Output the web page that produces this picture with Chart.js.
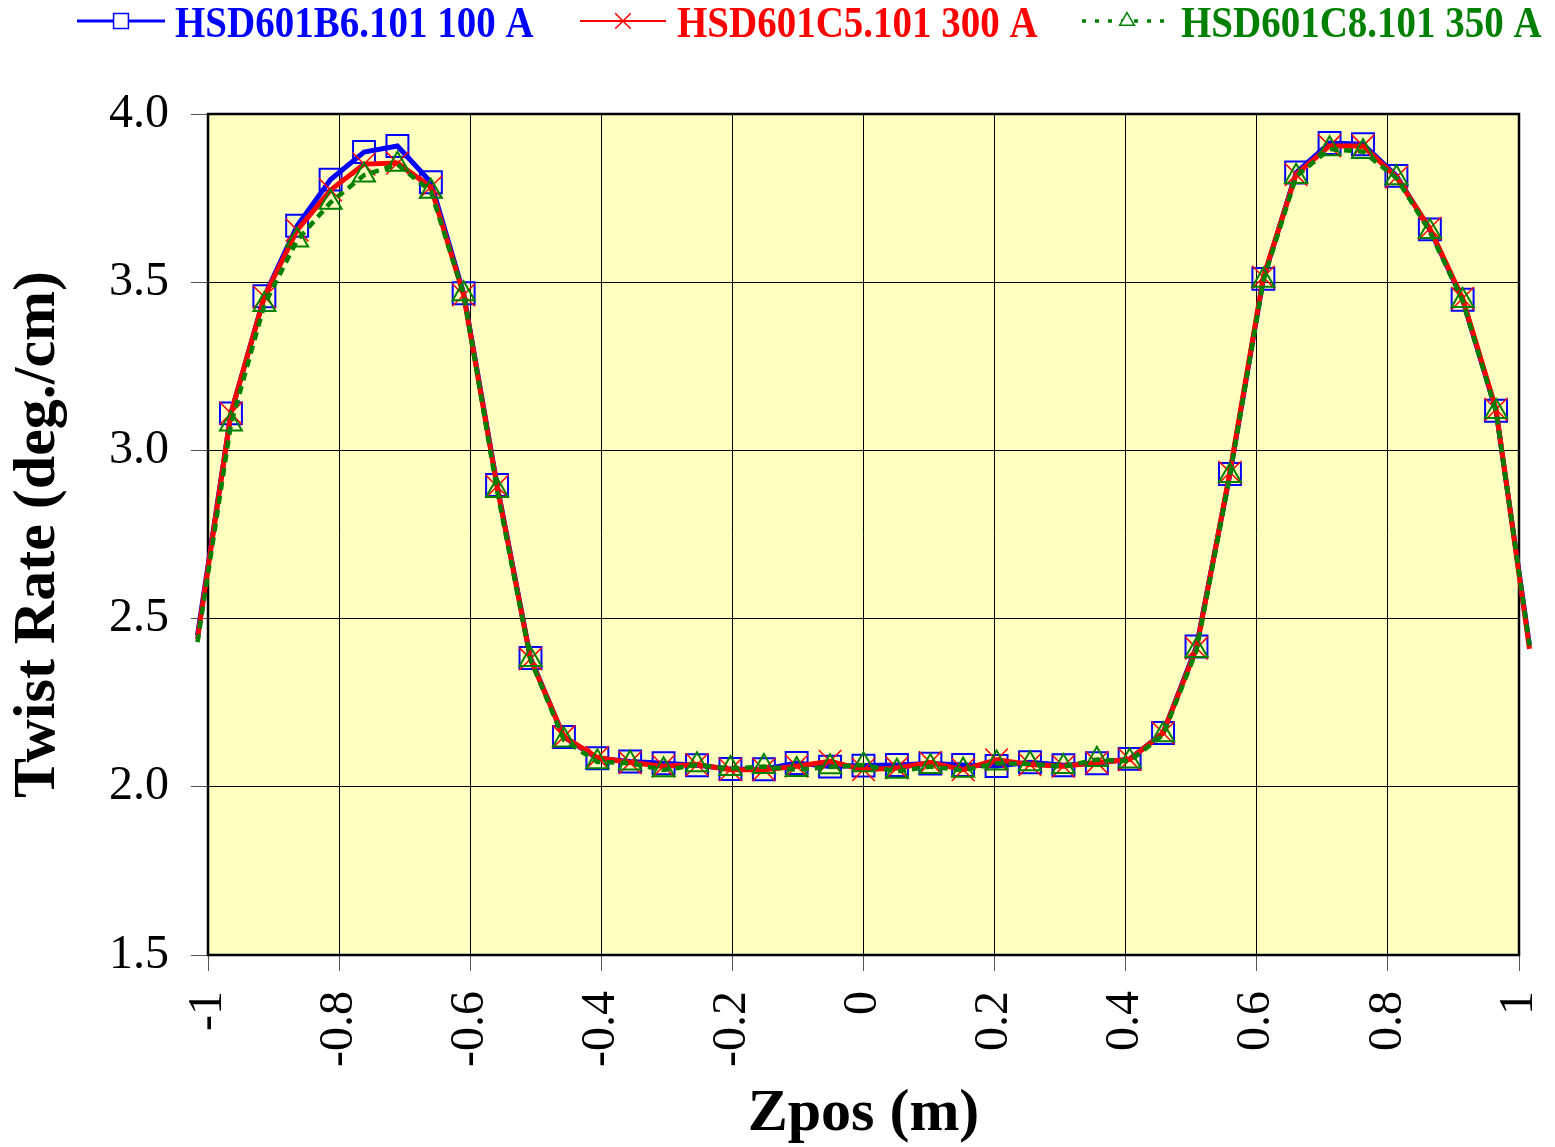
<!DOCTYPE html>
<html>
<head>
<meta charset="utf-8">
<title>Twist Rate vs Zpos</title>
<script src="https://cdn.jsdelivr.net/npm/chart.js@4.4.1/dist/chart.umd.min.js"></script>
<style>
  html, body { margin: 0; padding: 0; background: #fff; }
  #wrap { width: 1555px; height: 1147px; }
</style>
</head>
<body>
<div id="wrap"><canvas id="twistChart" width="1555" height="1147"></canvas></div>
<script>
// measurement stations along the magnet (m), every 2 inches
const zpos = [
  -1.016, -0.965, -0.914, -0.864, -0.813, -0.762, -0.711, -0.660, -0.610, -0.559,
  -0.508, -0.457, -0.406, -0.356, -0.305, -0.254, -0.203, -0.152, -0.102, -0.051,
   0.000,
   0.051,  0.102,  0.152,  0.203,  0.254,  0.305,  0.356,  0.406,  0.457,  0.508,
   0.559,  0.610,  0.660,  0.711,  0.762,  0.813,  0.864,  0.914,  0.965,  1.016
];

// twist rate (deg./cm) per magnet
const twist100A = [
  2.45, 3.110, 3.458, 3.668, 3.805, 3.887, 3.905, 3.797, 3.467, 2.897,
  2.383, 2.148, 2.085, 2.075, 2.070, 2.064, 2.053, 2.052, 2.071, 2.060,
  2.063,
  2.065, 2.069, 2.065, 2.062, 2.073, 2.064, 2.070, 2.083, 2.160, 2.417,
  2.930, 3.510, 3.826, 3.914, 3.910, 3.816, 3.657, 3.448, 3.118, 2.42
];
const twist300A = [
  2.44, 3.110, 3.456, 3.655, 3.774, 3.851, 3.854, 3.783, 3.462, 2.893,
  2.380, 2.149, 2.087, 2.072, 2.061, 2.066, 2.051, 2.051, 2.061, 2.076,
  2.051,
  2.056, 2.072, 2.051, 2.080, 2.066, 2.061, 2.072, 2.081, 2.160, 2.412,
  2.935, 3.515, 3.820, 3.905, 3.905, 3.812, 3.660, 3.452, 3.122, 2.41
];
const twist350A = [
  2.43, 3.078, 3.433, 3.625, 3.737, 3.818, 3.850, 3.770, 3.465, 2.880,
  2.378, 2.139, 2.074, 2.070, 2.050, 2.065, 2.054, 2.060, 2.051, 2.059,
  2.065,
  2.046, 2.060, 2.049, 2.070, 2.068, 2.060, 2.081, 2.076, 2.154, 2.405,
  2.925, 3.505, 3.814, 3.896, 3.888, 3.810, 3.650, 3.445, 3.115, 2.42
];

const seriesNames = ["HSD601B6.101 100 A", "HSD601C5.101 300 A", "HSD601C8.101 350 A"];
const xTicks = [-1, -0.8, -0.6, -0.4, -0.2, 0, 0.2, 0.4, 0.6, 0.8, 1];
const yTicks = [1.5, 2.0, 2.5, 3.0, 3.5, 4.0];

const SERIF = '"Liberation Serif", "Times New Roman", serif';
const BLUE = "#0000FF", RED = "#FF0000", GREEN = "#008000";

function toPoints(values) {
  return zpos.map((z, i) => ({ x: z, y: values[i] }));
}

// the end stations fall outside the axis range: keep the line, hide the marker
function markerSize(r) {
  return (ctx) => (Math.abs(zpos[ctx.dataIndex]) > 1 ? 0 : r);
}

const plotFrame = {
  id: "plotFrame",
  beforeDraw(chart) {
    const { ctx, chartArea: a } = chart;
    ctx.save();
    ctx.fillStyle = "#fff";
    ctx.fillRect(0, 0, chart.width, chart.height);
    ctx.fillStyle = "#FFFFC0";
    ctx.fillRect(a.left, a.top, a.right - a.left, a.bottom - a.top);
    ctx.restore();
  },
  beforeDatasetsDraw(chart) {
    const { ctx, chartArea: a } = chart;
    ctx.save();
    ctx.strokeStyle = "#000";
    ctx.lineWidth = 2.5;
    ctx.strokeRect(a.left, a.top, a.right - a.left, a.bottom - a.top);
    ctx.restore();
  }
};

// legend row across the top: line sample, marker, name
const legendSlots = [
  { x0: 77, x1: 165, textX: 175 },
  { x0: 580, x1: 666, textX: 677 },
  { x0: 1082, x1: 1172, textX: 1181 }
];
const legendLook = [
  { lineWidth: 3, dash: [], style: "rect", radius: 10.5, bw: 1.5 },
  { lineWidth: 2, dash: [], style: "crossRot", radius: 11, bw: 1.5 },
  { lineWidth: 3.5, dash: [4, 9], style: "triangle", radius: 8.5, bw: 1.5 }
];

const topLegend = {
  id: "topLegend",
  afterDraw(chart) {
    const { ctx } = chart;
    const y = 21;
    chart.data.datasets.forEach((ds, i) => {
      const slot = legendSlots[i];
      const look = legendLook[i];
      const color = ds.borderColor;
      ctx.save();
      ctx.strokeStyle = color;
      ctx.lineWidth = look.lineWidth;
      ctx.setLineDash(look.dash);
      ctx.beginPath();
      ctx.moveTo(slot.x0, y);
      ctx.lineTo(slot.x1, y);
      ctx.stroke();
      ctx.setLineDash([]);
      ctx.lineWidth = look.bw;
      ctx.fillStyle = "#fff";
      Chart.helpers.drawPoint(ctx, {
        pointStyle: look.style, radius: look.radius, borderWidth: look.bw, rotation: 0
      }, (slot.x0 + slot.x1) / 2, y);
      ctx.fillStyle = color;
      ctx.font = "bold 39px " + SERIF;
      ctx.textBaseline = "alphabetic";
      ctx.translate(slot.textX, 37);
      ctx.scale(1, 1.12);
      ctx.fillText(seriesNames[i], 0, 0);
      ctx.restore();
    });
  }
};

const chart = new Chart(document.getElementById("twistChart"), {
  type: "line",
  data: {
    datasets: [
      {
        label: seriesNames[0],
        data: toPoints(twist100A),
        borderColor: BLUE,
        borderWidth: 5,
        pointStyle: "rect",
        pointRadius: markerSize(15.5),
        pointBorderColor: BLUE,
        pointBackgroundColor: "rgba(0,0,0,0)",
        pointBorderWidth: 2,
        order: 3
      },
      {
        label: seriesNames[1],
        data: toPoints(twist300A),
        borderColor: RED,
        borderWidth: 5,
        pointStyle: "crossRot",
        pointRadius: markerSize(16),
        pointBorderColor: RED,
        pointBackgroundColor: "rgba(0,0,0,0)",
        pointBorderWidth: 1.5,
        order: 2
      },
      {
        label: seriesNames[2],
        data: toPoints(twist350A),
        borderColor: GREEN,
        borderWidth: 4.5,
        borderDash: [8, 6],
        pointStyle: "triangle",
        pointRadius: markerSize(12.7),
        pointBorderColor: GREEN,
        pointBackgroundColor: "rgba(0,0,0,0)",
        pointBorderWidth: 2,
        order: 1
      }
    ]
  },
  options: {
    responsive: false,
    animation: false,
    events: [],
    layout: { padding: { top: 114, right: 36, left: 0, bottom: 0 } },
    elements: { line: { tension: 0, fill: false } },
    datasets: { line: { clip: false } },
    plugins: {
      legend: { display: false },
      tooltip: { enabled: false }
    },
    scales: {
      x: {
        type: "linear",
        min: -1,
        max: 1,
        afterBuildTicks: (s) => { s.ticks = xTicks.map((v) => ({ value: v })); },
        afterFit: (s) => {
          s.height = 192;
          s.paddingLeft = 0;
          s.paddingRight = 0;
        },
        ticks: {
          autoSkip: false,
          minRotation: 90,
          maxRotation: 90,
          padding: 20,
          color: "#000",
          font: { family: SERIF, size: 48 },
          callback: (v) => String(Number(Number(v).toFixed(1)))
        },
        grid: { color: "#000", lineWidth: 1, tickLength: 16, tickColor: "#555" },
        border: { display: false },
        title: {
          display: true,
          text: "Zpos (m)",
          color: "#000",
          font: { family: SERIF, size: 60, weight: "bold", lineHeight: 1 },
          padding: { top: 0, bottom: 3 }
        }
      },
      y: {
        min: 1.5,
        max: 4.0,
        afterBuildTicks: (s) => { s.ticks = yTicks.map((v) => ({ value: v })); },
        afterFit: (s) => { s.width = 208; },
        ticks: {
          padding: 22,
          color: "#000",
          font: { family: SERIF, size: 48 },
          callback: (v) => Number(v).toFixed(1)
        },
        grid: { color: "#000", lineWidth: 1, tickLength: 17, tickColor: "#555" },
        border: { display: false },
        title: {
          display: true,
          text: "Twist Rate (deg./cm)",
          color: "#000",
          font: { family: SERIF, size: 60, weight: "bold", lineHeight: 1 },
          padding: { top: 8, bottom: 0 }
        }
      }
    }
  },
  plugins: [plotFrame, topLegend]
});
</script>
</body>
</html>
